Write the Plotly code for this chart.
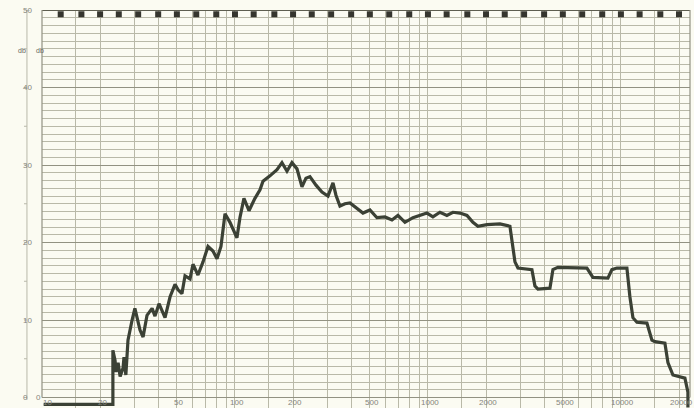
import numpy as np
import plotly.graph_objects as go

# Recorded frequency response (pen trace), frequency in Hz and level in dB
freq_hz = [
    10.2, 23.3, 23.3, 23.9, 24.2, 24.8, 25.4, 26.3, 26.6, 27.2,
    27.9, 28.6, 29.3, 30.3, 31.1, 32.2, 33.4, 35.0, 37.2, 38.5,
    40.4, 43.4, 46.1, 48.9, 50.7, 53.1, 55.1, 58.5, 60.6, 64.3,
    68.3, 72.5, 76.9, 80.7, 84.6, 88.8, 94.2, 102.4, 106.1, 111.3,
    118.2, 126.9, 134.8, 139.7, 151.8, 165.1, 175.2, 186.0, 197.4, 209.6,
    222.4, 233.3, 244.6, 262.9, 282.3, 303.4, 322.0, 333.7, 350.0, 371.5,
    394.5, 418.8, 460.5, 500.6, 544.1, 598.7, 651.0, 699.2, 760.2, 836.1,
    908.8, 988.1, 1061, 1154, 1254, 1347, 1465, 1593, 1711, 1816,
    2022, 2361, 2660, 2724, 2824, 2927, 3458, 3584, 3715, 4287,
    4443, 4716, 6665, 7159, 8563, 8982, 9535, 10742, 11132, 11540,
    12103, 13636, 14476, 15005, 16904, 17524, 18599, 21459, 22245, 22245,
]
level_db = [
    -0.9, -0.9, 6.1, 4.8, 3.3, 4.5, 2.7, 3.8, 5.2, 2.9,
    7.4, 9.0, 10.0, 11.5, 10.4, 8.7, 7.8, 10.6, 11.5, 10.5,
    12.1, 10.3, 13.0, 14.6, 13.9, 13.4, 15.7, 15.3, 17.2, 15.8,
    17.5, 19.5, 18.9, 17.9, 19.5, 23.7, 22.6, 20.6, 23.2, 25.7,
    24.1, 25.7, 26.8, 27.9, 28.6, 29.4, 30.3, 29.2, 30.3, 29.5,
    27.2, 28.3, 28.5, 27.4, 26.5, 26.0, 27.7, 26.1, 24.7, 25.0,
    25.1, 24.6, 23.8, 24.2, 23.2, 23.3, 22.9, 23.5, 22.6, 23.2,
    23.5, 23.8, 23.3, 23.9, 23.5, 23.9, 23.8, 23.5, 22.6, 22.1,
    22.3, 22.4, 22.1, 20.3, 17.5, 16.7, 16.5, 14.4, 14.0, 14.1,
    16.5, 16.8, 16.7, 15.5, 15.4, 16.5, 16.7, 16.7, 13.0, 10.3,
    9.7, 9.6, 7.4, 7.2, 7.0, 4.5, 2.9, 2.5, 0.7, -1.3,
]

# Third-octave timing marks printed along the top edge
third_octave_hz = [
    12.5, 16, 20, 25, 31.5, 40, 50, 63, 80, 100, 125, 160, 200, 250, 315,
    400, 500, 630, 800, 1000, 1250, 1600, 2000, 2500, 3150, 4000, 5000,
    6300, 8000, 10000, 12500, 16000, 20000,
]

# Axis labels
x_label_hz = [10, 20, 50, 100, 200, 500, 1000, 2000, 5000, 10000, 20000]
x_label_text = ["10", "20", "50", "100", "200", "500", "1000", "2000", "5000", "10000", "20000"]
y_label_db = [50, 40, 30, 20, 10, 0]

PAPER = "#fbfbf2"
GRID = "#b9b9a8"
GRID_MAJOR = "#929282"
INK = "#3b4135"
LABEL = "#85857d"
FONT = "Liberation Sans"

# log-paper vertical rulings: 1, 1.5, 2, 3 ... 9 in every decade
rulings = [1, 1.5, 2, 3, 4, 5, 6, 7, 8, 9]
grid_hz = [m * d for d in (10, 100, 1000, 10000) for m in rulings if m * d <= 20000]

fig = go.Figure()
fig.add_trace(go.Scatter(
    x=freq_hz, y=level_db, mode="lines",
    line=dict(color=INK, width=3.2),
    hoverinfo="skip",
))
fig.add_trace(go.Scatter(
    x=third_octave_hz, y=[49.45] * len(third_octave_hz), mode="markers",
    marker=dict(symbol="square", size=6, color="#35352e"),
    hoverinfo="skip", cliponaxis=False,
))

annotations = []
for f, t in zip(x_label_hz, x_label_text):
    shift = 5 if f == 10 else 2
    annotations.append(dict(
        x=np.log10(f), y=-0.6, xref="x", yref="y", text=t, showarrow=False,
        xshift=shift, font=dict(family=FONT, size=8, color=LABEL),
    ))
for v in y_label_db:
    annotations.append(dict(
        x=-0.033, y=v, xref="paper", yref="y", text=str(v), showarrow=False,
        font=dict(family=FONT, size=8, color=LABEL),
    ))
annotations.append(dict(x=-0.0123, y=0, xref="paper", yref="y", text="0", showarrow=False,
                        font=dict(family=FONT, size=8, color=LABEL)))
for px in (-0.040, -0.0123):
    annotations.append(dict(x=px, y=44.8, xref="paper", yref="y", text="db", showarrow=False,
                            font=dict(family=FONT, size=7, color="#66665c")))

shapes = [
    # blank strip under the 0 dB ruling
    dict(type="rect", xref="paper", yref="y", x0=0, x1=1, y0=-1.4, y1=-0.12,
         fillcolor=PAPER, line=dict(width=0), layer="between"),
    # heavy top ruling
    dict(type="line", xref="paper", yref="y", x0=0, x1=1, y0=50, y1=50,
         line=dict(color="#5e5e50", width=2)),
    # left and right borders
    dict(type="line", xref="paper", yref="y", x0=0, x1=0, y0=0, y1=50,
         line=dict(color=GRID_MAJOR, width=1.2)),
    dict(type="line", xref="paper", yref="y", x0=1, x1=1, y0=0, y1=50,
         line=dict(color=GRID_MAJOR, width=1.2)),
    # auxiliary dB scale line
    dict(type="line", xref="paper", yref="y", x0=-0.0232, x1=-0.0232, y0=-0.3, y1=50,
         line=dict(color="#b8b8aa", width=1)),
    dict(type="line", xref="paper", yref="y", x0=-0.0232, x1=-0.0185, y0=50, y1=50,
         line=dict(color="#b8b8aa", width=1)),
]
for v in range(0, 51, 5):
    shapes.append(dict(type="line", xref="paper", yref="y", x0=-0.0278, x1=-0.0232,
                       y0=v, y1=v, line=dict(color="#b8b8aa", width=1)))

fig.update_layout(
    width=694, height=408,
    margin=dict(l=42, r=4, t=10, b=0),
    paper_bgcolor=PAPER, plot_bgcolor=PAPER,
    showlegend=False,
    xaxis=dict(
        type="log", range=[1, 4.358],
        tickmode="array", tickvals=grid_hz, showticklabels=False, ticks="",
        showgrid=True, gridcolor=GRID, gridwidth=1,
        zeroline=False, showline=False, fixedrange=True,
    ),
    yaxis=dict(
        range=[-1.355, 50],
        tickmode="array", tickvals=list(range(0, 51, 10)), showticklabels=False, ticks="",
        showgrid=True, gridcolor=GRID_MAJOR, gridwidth=1.4,
        minor=dict(tickmode="array", tickvals=list(range(0, 51)), showgrid=True,
                   gridcolor=GRID, gridwidth=1, ticks=""),
        zeroline=False, showline=False, fixedrange=True,
    ),
    annotations=annotations,
    shapes=shapes,
)

fig.write_html("out.html")
